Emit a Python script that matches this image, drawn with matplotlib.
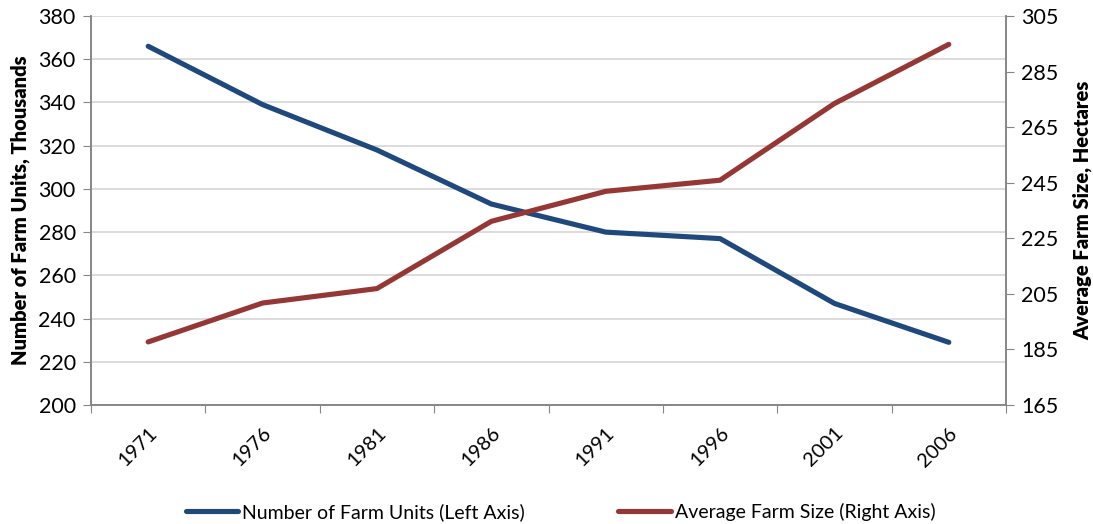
import matplotlib
matplotlib.use("Agg")
import matplotlib.pyplot as plt
import numpy as np

years = ["1971", "1976", "1981", "1986", "1991", "1996", "2001", "2006"]
farm_units = [366, 339, 318, 293, 280, 277, 247, 229]
farm_size = [187.7, 201.7, 206.9, 231.1, 241.9, 245.9, 273.5, 294.8]
left_ticks = list(range(200, 381, 20))
right_ticks = list(range(165, 306, 20))

plt.rcParams['font.family'] = ['Lato', 'DejaVu Sans']

blue = '#1f497d'
red = '#953735'
spine = '#868686'

fig = plt.figure(figsize=(10.93, 5.24), dpi=100)
ax = fig.add_axes([91/1093, 1-405/524, (1006-91)/1093, (405-16)/524])
ax2 = ax.twinx()

x = np.arange(len(years))
l1, = ax.plot(x, farm_units, color=blue, lw=3.7, solid_capstyle='round', solid_joinstyle='round',
              label='Number of Farm Units (Left Axis)', zorder=3)
l2, = ax2.plot(x, farm_size, color=red, lw=3.7, solid_capstyle='round', solid_joinstyle='round',
               label='Average Farm Size (Right Axis)', zorder=3)

ax.set_xlim(-0.5, len(years) - 0.5)
ax.set_ylim(200, 380)
ax2.set_ylim(165, 305)
ax.set_yticks(left_ticks)
ax2.set_yticks(right_ticks)

ax.set_xticks(np.arange(-0.5, len(years), 1.0))
ax.set_xticklabels([])
ax.set_xticks(x, minor=True)
ax.set_xticklabels(years, minor=True, rotation=45, ha='right', rotation_mode='anchor', fontsize=14.5)
ax.tick_params(axis='x', which='minor', length=0, pad=14)
ax.tick_params(axis='x', which='major', length=6, color=spine, direction='out')

ax.yaxis.grid(True, color='#d9d9d9', lw=1.3)
ax.set_axisbelow(True)

for a in (ax, ax2):
    a.spines['top'].set_visible(False)
    for s in ['left', 'right', 'bottom']:
        a.spines[s].set_color(spine)
        a.spines[s].set_linewidth(1.2)
ax.tick_params(axis='y', length=6, color=spine, labelsize=15.5, pad=5)
ax2.tick_params(axis='y', length=6, color=spine, labelsize=15.5, pad=5)

ax.set_ylabel('Number of Farm Units, Thousands', fontsize=14.5, fontweight='heavy', labelpad=6)
ax2.set_ylabel('Average Farm Size, Hectares', fontsize=14.5, fontweight='heavy', labelpad=10)

fig.legend(handles=[l1, l2], loc='lower center', bbox_to_anchor=(0.513, -0.028), ncol=2,
           frameon=False, fontsize=14, handlelength=2.7, handletextpad=0.2, columnspacing=4.8)

fig.savefig('out.png', dpi=100)
